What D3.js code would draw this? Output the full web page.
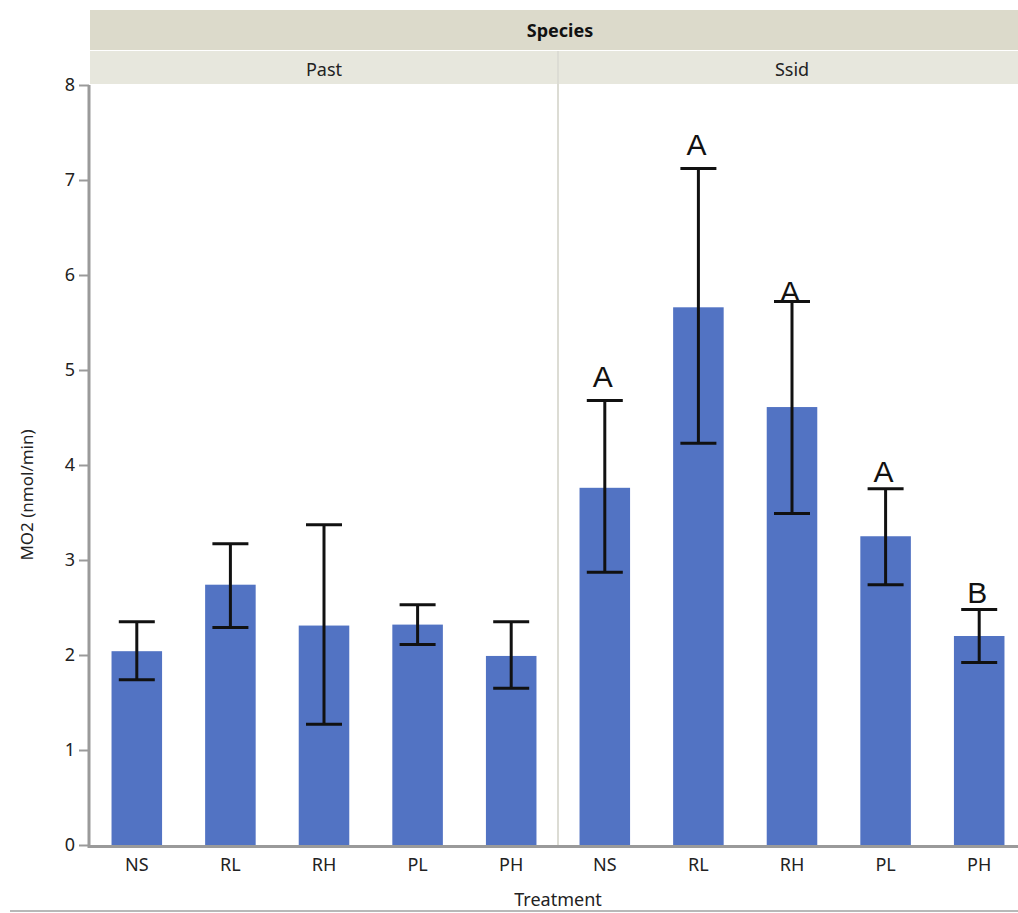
<!DOCTYPE html>
<html>
<head>
<meta charset="utf-8">
<script src="https://cdn.jsdelivr.net/npm/d3@7"></script>
<style>
  html, body { margin: 0; padding: 0; background: #fff; }
  svg { display: block; }
</style>
</head>
<body>
<svg id="chart" width="1018" height="913"></svg>
<script>
// ---- data ----
const species = ["Past", "Ssid"];
const treatments = ["NS", "RL", "RH", "PL", "PH"];
const pastMean = [2.04, 2.74, 2.31, 2.32, 1.99];
const pastLow  = [1.74, 2.29, 1.27, 2.11, 1.65];
const pastHigh = [2.35, 3.17, 3.37, 2.53, 2.35];
const ssidMean = [3.76, 5.66, 4.61, 3.25, 2.20];
const ssidLow  = [2.87, 4.23, 3.49, 2.74, 1.92];
const ssidHigh = [4.68, 7.12, 5.72, 3.75, 2.48];
const ssidLetters = ["A", "A", "A", "A", "B"];
const ssidLetterAt = [4.82, 7.26, 5.72, 3.82, 2.55];
const yTicks = [0, 1, 2, 3, 4, 5, 6, 7, 8];

const rows = [
  { sp: "Past", mean: pastMean, lo: pastLow, hi: pastHigh, letters: null, letterAt: null },
  { sp: "Ssid", mean: ssidMean, lo: ssidLow, hi: ssidHigh, letters: ssidLetters, letterAt: ssidLetterAt }
];

// ---- layout ----
const svg = d3.select("#chart");
const plotLeft = 89, plotTop = 85, plotBottom = 845;
const panelW = 468;
const panelX = d3.scaleBand().domain(species).range([plotLeft + 1, plotLeft + 1 + 2 * panelW]);
const y = d3.scaleLinear().domain([0, 8]).range([plotBottom, plotTop]);
const x = d3.scaleBand().domain(treatments).range([0, panelW]).paddingInner(0.46).paddingOuter(0.23);

const tickFont = "'Noto Sans', 'Open Sans', sans-serif";
const barColor = "#5273c3";

// header bands
svg.append("rect").attr("x", plotLeft + 1).attr("y", 10).attr("width", 1018 - plotLeft - 1).attr("height", 40)
  .attr("fill", "#dcdacb");
svg.append("text").attr("x", 560).attr("y", 37).attr("text-anchor", "middle")
  .attr("font-family", tickFont).attr("font-size", 18).attr("font-weight", "bold").attr("fill", "#111")
  .text("Species");
svg.append("rect").attr("x", plotLeft + 1).attr("y", 51).attr("width", 1018 - plotLeft - 1).attr("height", 33)
  .attr("fill", "#e7e7dd");

species.forEach(sp => {
  svg.append("text").attr("x", panelX(sp) + 234).attr("y", 76).attr("text-anchor", "middle")
    .attr("font-family", tickFont).attr("font-size", 18).attr("fill", "#222").text(sp);
});
// panel divider
svg.append("line").attr("x1", panelX("Ssid")).attr("x2", panelX("Ssid"))
  .attr("y1", 51).attr("y2", plotBottom).attr("stroke", "#dcdcd4").attr("stroke-width", 2);

// panels
rows.forEach(r => {
  const g = svg.append("g").attr("transform", `translate(${panelX(r.sp)},0)`);
  const d = treatments.map((t, i) => ({ t, m: r.mean[i], lo: r.lo[i], hi: r.hi[i],
    letter: r.letters ? r.letters[i] : null, la: r.letterAt ? r.letterAt[i] : null }));
  g.selectAll("rect.bar").data(d).join("rect").attr("class", "bar")
    .attr("x", e => x(e.t)).attr("width", x.bandwidth())
    .attr("y", e => y(e.m)).attr("height", e => y(0) - y(e.m))
    .attr("fill", barColor);
  const cx = e => x(e.t) + x.bandwidth() / 2;
  const cap = 18;
  const eb = g.selectAll("g.err").data(d).join("g").attr("class", "err")
    .attr("stroke", "#111").attr("stroke-width", 3);
  eb.append("line").attr("x1", cx).attr("x2", cx).attr("y1", e => y(e.lo)).attr("y2", e => y(e.hi));
  eb.append("line").attr("x1", e => cx(e) - cap).attr("x2", e => cx(e) + cap).attr("y1", e => y(e.hi)).attr("y2", e => y(e.hi));
  eb.append("line").attr("x1", e => cx(e) - cap).attr("x2", e => cx(e) + cap).attr("y1", e => y(e.lo)).attr("y2", e => y(e.lo));
  g.selectAll("text.letter").data(d.filter(e => e.letter)).join("text").attr("class", "letter")
    .attr("x", e => cx(e) - 2).attr("y", e => y(e.la))
    .attr("text-anchor", "middle").attr("font-family", "'Liberation Sans', Arial, sans-serif")
    .attr("font-size", 30).attr("fill", "#111").text(e => e.letter);

  // x axis labels
  const xa = g.append("g").attr("transform", `translate(0,${plotBottom + 1})`)
    .call(d3.axisBottom(x).tickSize(0).tickPadding(12));
  xa.select(".domain").remove();
  xa.selectAll("text").attr("font-family", tickFont).attr("font-size", 18).attr("fill", "#222");
});

// x axis line
svg.append("line").attr("x1", plotLeft).attr("x2", 1018).attr("y1", plotBottom + 1.5).attr("y2", plotBottom + 1.5)
  .attr("stroke", "#9a9a9a").attr("stroke-width", 3);

// y axis
const ya = svg.append("g").attr("transform", `translate(${plotLeft},0)`)
  .call(d3.axisLeft(y).tickValues(yTicks).tickSize(10).tickPadding(4).tickFormat(d3.format("d")));
ya.select(".domain").attr("stroke", "#9a9a9a").attr("stroke-width", 3).attr("d", `M0,${plotTop}V${plotBottom + 3}`);
ya.selectAll(".tick line").attr("stroke", "#9a9a9a").attr("stroke-width", 2);
ya.selectAll("text").attr("font-family", tickFont).attr("font-size", 18).attr("fill", "#222");

// axis titles
svg.append("text").attr("transform", `translate(33,${(plotTop + plotBottom) / 2 + 30}) rotate(-90)`)
  .attr("text-anchor", "middle").attr("font-family", tickFont).attr("font-size", 17).attr("fill", "#222")
  .text("MO2 (nmol/min)");
svg.append("text").attr("x", 558).attr("y", 906).attr("text-anchor", "middle")
  .attr("font-family", tickFont).attr("font-size", 18).attr("fill", "#222").text("Treatment");

// bottom rule
svg.append("line").attr("x1", 10).attr("x2", 1018).attr("y1", 911).attr("y2", 911)
  .attr("stroke", "#b8b8b8").attr("stroke-width", 2);
</script>
</body>
</html>
